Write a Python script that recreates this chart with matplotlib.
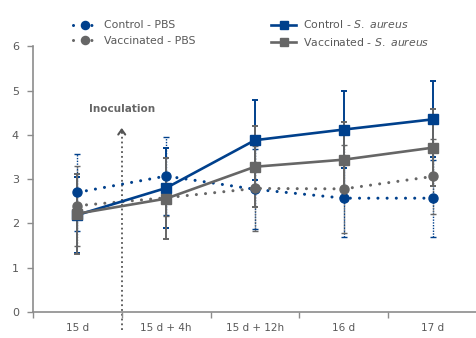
import matplotlib
matplotlib.use("Agg")
import matplotlib.pyplot as plt
import numpy as np

# time points
timepoints = ["15 d", "15 d + 4h", "15 d + 12h", "16 d", "17 d"]

# group means
ctrl_pbs = [2.70, 3.07, 2.77, 2.57, 2.57]
vacc_pbs = [2.40, 2.58, 2.79, 2.78, 3.06]
ctrl_sa = [2.19, 2.80, 3.88, 4.12, 4.35]
vacc_sa = [2.22, 2.56, 3.28, 3.44, 3.71]

# standard deviations
ctrl_pbs_err = [0.87, 0.88, 0.90, 0.88, 0.87]
vacc_pbs_err = [0.90, 0.42, 0.95, 1.00, 0.85]
ctrl_sa_err = [0.86, 0.90, 0.90, 0.86, 0.86]
vacc_sa_err = [0.90, 0.92, 0.92, 0.86, 0.87]

blue = "#00408C"
gray = "#666666"
txt = "#595959"
axcol = "#8C8C8C"

plt.rcParams["font.family"] = ["DejaVu Sans"]
plt.rcParams["mathtext.fontset"] = "dejavusans"

fig = plt.figure(figsize=(4.77, 3.38), dpi=100)
ax = fig.add_axes([0.069, 0.077, 0.931, 0.786])

x = np.arange(len(timepoints))
dots = (0, (0.01, 3.0))

series = [
    (ctrl_pbs, ctrl_pbs_err, blue, "o", dots, "Control - PBS"),
    (vacc_pbs, vacc_pbs_err, gray, "o", dots, "Vaccinated - PBS"),
    (ctrl_sa, ctrl_sa_err, blue, "s", "-", r"Control - $\it{S.\ aureus}$"),
    (vacc_sa, vacc_sa_err, gray, "s", "-", r"Vaccinated - $\it{S.\ aureus}$"),
]

# error bars underneath
for i, (y, e, c, m, ls, lab) in enumerate(series):
    dotted = ls != "-"
    eb = ax.errorbar(x, y, yerr=e, fmt="none", ecolor=c,
                     elinewidth=1.0 if dotted else 1.4,
                     capsize=2.5, capthick=1.0 if dotted else 1.4,
                     zorder=2 + i * 0.1)
    if dotted:
        for lc in eb[2]:
            lc.set_linestyle((0, (1, 1)))

# lines + markers
handles = []
for i, (y, e, c, m, ls, lab) in enumerate(series):
    ms = 6.5 if m == "o" else 7
    lw = 2.2 if ls != "-" else 1.9
    h, = ax.plot(x, y, linestyle=ls, color=c, lw=lw, marker=m, ms=ms,
                 markerfacecolor=c, markeredgecolor=c, label=lab,
                 dash_capstyle="round", zorder=3 + i * 0.1)
    handles.append(h)

# inoculation marker
ax.plot([0.5, 0.5], [-0.4, 4.12], linestyle=":", color="#555555", lw=1.3,
        clip_on=False, zorder=1)
ax.annotate("", xy=(0.5, 4.22), xytext=(0.5, 4.0),
            arrowprops=dict(arrowstyle="->,head_width=0.25,head_length=0.35",
                            color="#555555", lw=1.5))
ax.text(0.5, 4.58, "Inoculation", ha="center", va="center", fontsize=7.5,
        fontweight="bold", color=gray)

ax.set_xlim(-0.5, 4.5)
ax.set_ylim(0, 6)
ax.set_yticks(range(0, 7))
ax.set_xticks(np.arange(-0.5, 5.0, 1.0))
ax.set_xticklabels([])
ax.set_xticks(x, minor=True)
ax.set_xticklabels(timepoints, minor=True)
ax.tick_params(axis="x", which="minor", length=0, pad=8, labelsize=7.5,
               labelcolor=txt)
ax.tick_params(axis="x", which="major", length=4, color=axcol, width=1)
ax.tick_params(axis="y", length=4, color=axcol, width=1, labelsize=8,
               labelcolor=txt, pad=6)

for s in ["top", "right"]:
    ax.spines[s].set_visible(False)
for s in ["left", "bottom"]:
    ax.spines[s].set_color(axcol)
    ax.spines[s].set_linewidth(1.2)

fig.legend(handles=handles, ncol=2, loc="center left",
           bbox_to_anchor=(0.152, 0.902), frameon=False, fontsize=7.8,
           labelcolor=txt, handlelength=2.3, handletextpad=0.6,
           columnspacing=7.0, labelspacing=0.5, borderpad=0,
           borderaxespad=0, markerscale=0.9)

fig.savefig("out.png", dpi=100)
